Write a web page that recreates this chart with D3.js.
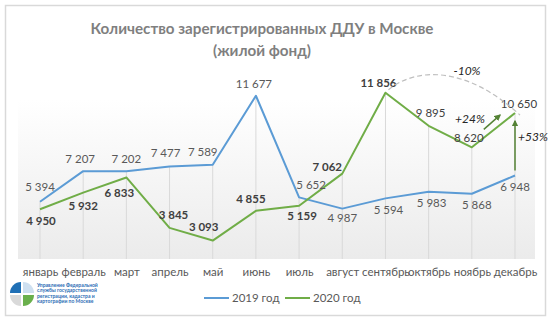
<!DOCTYPE html>
<html>
<head>
<meta charset="utf-8">
<script src="https://cdn.jsdelivr.net/npm/d3@7/dist/d3.min.js"></script>
<style>
  html, body { margin: 0; padding: 0; background: #fff; }
  svg { display: block; }
  text { font-family: Lato, "Open Sans", sans-serif; }
</style>
</head>
<body>
<svg id="chart" width="555" height="322"></svg>
<script>
// Registered shared-construction contracts (ДДУ), Moscow, residential
const months = ["январь", "февраль", "март", "апрель", "май", "июнь",
                "июль", "август", "сентябрь", "октябрь", "ноябрь", "декабрь"];
const values2019 = [5394, 7207, 7202, 7477, 7589, 11677, 5652, 4987, 5594, 5983, 5868, 6948];
const values2020 = [4950, 5932, 6833, 3845, 3093, 4855, 5159, 7062, 11856, 9895, 8620, 10650];
const seriesNames = ["2019 год", "2020 год"];
const yDomain = [2000, 12000];

// label placement relative to each point (dx, dy)
const offsets2019 = [[0,-15],[-3,-12],[0,-12],[-4,-14],[-10,-13],[-2,-12],[12,-12],[0,9],[3,12],[3,11],[5,11],[0,11]];
const offsets2020 = [[1,12],[0,13],[-7,16],[4,-13],[-9,-14],[-5,-12],[3,10],[-15,-7],[-7,-10],[2,-13],[-3,-9],[4,-9]];
const bold2020 = [true,true,true,true,true,true,true,true,true,false,false,false];

const fmt = v => d3.format(",")(v).replace(/,/g, " ");

const svg = d3.select("#chart");
const blue = "#5b9bd5", green = "#70ad47", arrowGreen = "#548235";
const labelSize = 11.5;

// outer frame
svg.append("rect").attr("x", 5.5).attr("y", 5.5).attr("width", 540).attr("height", 310)
  .attr("fill", "#fff").attr("stroke", "#d9d9d9").attr("stroke-width", 1.5);

// title
const title = svg.append("text").attr("text-anchor", "middle")
  .attr("fill", "#7f7f7f").attr("font-weight", "bold").attr("font-size", 15.2);
title.append("tspan").attr("x", 262).attr("y", 34).text("Количество зарегистрированных ДДУ в Москве");
title.append("tspan").attr("x", 262).attr("y", 56).text("(жилой фонд)");

const plot = { left: 18, right: 535, top: 100, bottom: 259 };

const x = d3.scalePoint().domain(months).range([40, 515]);
const y = d3.scaleLinear().domain(yDomain).range([259, 90.3]);

// plot background gradient
const defs = svg.append("defs");
const grad = defs.append("linearGradient").attr("id", "bg").attr("x1", 0).attr("x2", 0).attr("y1", 0).attr("y2", 1);
grad.append("stop").attr("offset", "0%").attr("stop-color", "#ffffff");
grad.append("stop").attr("offset", "100%").attr("stop-color", "#ebebeb");
svg.append("rect").attr("x", plot.left).attr("y", plot.top)
  .attr("width", plot.right - plot.left).attr("height", plot.bottom - plot.top)
  .attr("fill", "url(#bg)");

const marker = defs.append("marker").attr("id", "arrow").attr("viewBox", "0 0 10 10")
  .attr("refX", 8).attr("refY", 5).attr("markerWidth", 4.5).attr("markerHeight", 4.5)
  .attr("orient", "auto-start-reverse");
marker.append("path").attr("d", "M0,0 L10,5 L0,10 z").attr("fill", arrowGreen);

// drop lines from the higher point to the category axis
svg.append("g").selectAll("line").data(months).join("line")
  .attr("x1", d => x(d)).attr("x2", d => x(d))
  .attr("y1", (d, i) => y(Math.max(values2019[i], values2020[i])))
  .attr("y2", plot.bottom)
  .attr("stroke", "#d9d9d9").attr("stroke-width", 1);

// category axis
const xAxis = d3.axisBottom(x).tickSize(0).tickPadding(0);
const gx = svg.append("g").attr("transform", `translate(0,${plot.bottom})`).call(xAxis);
gx.select(".domain").remove();
gx.selectAll("text").attr("dy", "0").attr("y", 17).attr("fill", "#595959")
  .attr("font-size", labelSize).style("font-family", "Lato, 'Open Sans', sans-serif");

const line = d3.line().x((d, i) => x(months[i])).y(d => y(d));

svg.append("path").datum(values2019).attr("d", line)
  .attr("fill", "none").attr("stroke", blue).attr("stroke-width", 2).attr("stroke-linejoin", "round");
svg.append("path").datum(values2020).attr("d", line)
  .attr("fill", "none").attr("stroke", green).attr("stroke-width", 2).attr("stroke-linejoin", "round");

// data labels
svg.append("g").selectAll("text").data(values2019).join("text")
  .attr("x", (d, i) => x(months[i]) + offsets2019[i][0])
  .attr("y", (d, i) => y(d) + offsets2019[i][1])
  .attr("dy", "0.35em").attr("text-anchor", "middle")
  .attr("fill", "#595959").attr("font-size", labelSize)
  .text(d => fmt(d));
svg.append("g").selectAll("text").data(values2020).join("text")
  .attr("x", (d, i) => x(months[i]) + offsets2020[i][0])
  .attr("y", (d, i) => y(d) + offsets2020[i][1])
  .attr("dy", "0.35em").attr("text-anchor", "middle")
  .attr("fill", "#404040").attr("font-size", labelSize)
  .attr("font-weight", (d, i) => bold2020[i] ? "bold" : "normal")
  .text(d => fmt(d));

// September → December comparison (dashed arc)
const sx = x("сентябрь"), sy = y(values2020[8]);
const ex = x("декабрь"), ey = y(values2020[11]);
svg.append("path")
  .attr("d", `M${sx + 3},${sy - 3} C${sx + 30},${sy - 25} ${ex - 50},${sy - 28} ${ex + 5},${ey + 2}`)
  .attr("fill", "none").attr("stroke", "#bfbfbf").attr("stroke-width", 1.2).attr("stroke-dasharray", "5,3");
svg.append("text").attr("x", 467).attr("y", 71).attr("dy", "0.35em").attr("text-anchor", "middle")
  .attr("font-style", "italic").attr("font-size", 12).attr("fill", "#262626").text("-10%");

// November → December growth
const nx = x("ноябрь"), ny = y(values2020[10]);
svg.append("line").attr("x1", nx + 12).attr("y1", ny - 18).attr("x2", ex - 15).attr("y2", ey + 2)
  .attr("stroke", arrowGreen).attr("stroke-width", 1.5).attr("marker-end", "url(#arrow)");
svg.append("text").attr("x", 470).attr("y", 119).attr("dy", "0.35em").attr("text-anchor", "middle")
  .attr("font-style", "italic").attr("font-size", 12).attr("fill", "#262626").text("+24%");

// December 2019 → December 2020 growth
svg.append("line").attr("x1", ex).attr("y1", y(values2019[11]) - 5).attr("x2", ex).attr("y2", ey + 8)
  .attr("stroke", arrowGreen).attr("stroke-width", 1.5).attr("marker-end", "url(#arrow)");
svg.append("text").attr("x", 533).attr("y", 137).attr("dy", "0.35em").attr("text-anchor", "middle")
  .attr("font-style", "italic").attr("font-size", 12).attr("fill", "#262626").text("+53%");

// legend
const legend = svg.append("g");
[[204, blue], [285, green]].forEach(([lx, c], i) => {
  legend.append("line").attr("x1", lx).attr("x2", lx + 25).attr("y1", 298).attr("y2", 298)
    .attr("stroke", c).attr("stroke-width", 2);
  legend.append("text").attr("x", lx + 28).attr("y", 298).attr("dy", "0.35em")
    .attr("fill", "#595959").attr("font-size", labelSize).text(seriesNames[i]);
});

// agency logo
const logo = svg.append("g").attr("transform", "translate(22,294)");
const r = 11;
const arc = d3.arc().innerRadius(0).outerRadius(r);
logo.append("path").attr("d", arc({ startAngle: -Math.PI / 2, endAngle: 0 }))
  .attr("transform", "translate(-1,-1)").attr("fill", "#1f6fb5");
logo.append("path").attr("d", arc({ startAngle: 0, endAngle: Math.PI / 2 }))
  .attr("transform", "translate(1,-1)").attr("fill", "#cfe0f0");
logo.append("path").attr("d", arc({ startAngle: Math.PI / 2, endAngle: Math.PI }))
  .attr("transform", "translate(1,1)").attr("fill", "#6ab04c");
logo.append("path").attr("d", arc({ startAngle: Math.PI, endAngle: Math.PI * 1.5 }))
  .attr("transform", "translate(-1,1)").attr("fill", "#d9d9d9");

const logoLines = ["Управление Федеральной", "службы государственной", "регистрации, кадастра и", "картографии по Москве"];
svg.append("g").selectAll("text").data(logoLines).join("text")
  .attr("x", 37).attr("y", (d, i) => 287 + i * 5.3)
  .attr("font-size", 5).attr("font-weight", "bold").attr("fill", "#2d6db5")
  .text(d => d);
</script>
</body>
</html>
